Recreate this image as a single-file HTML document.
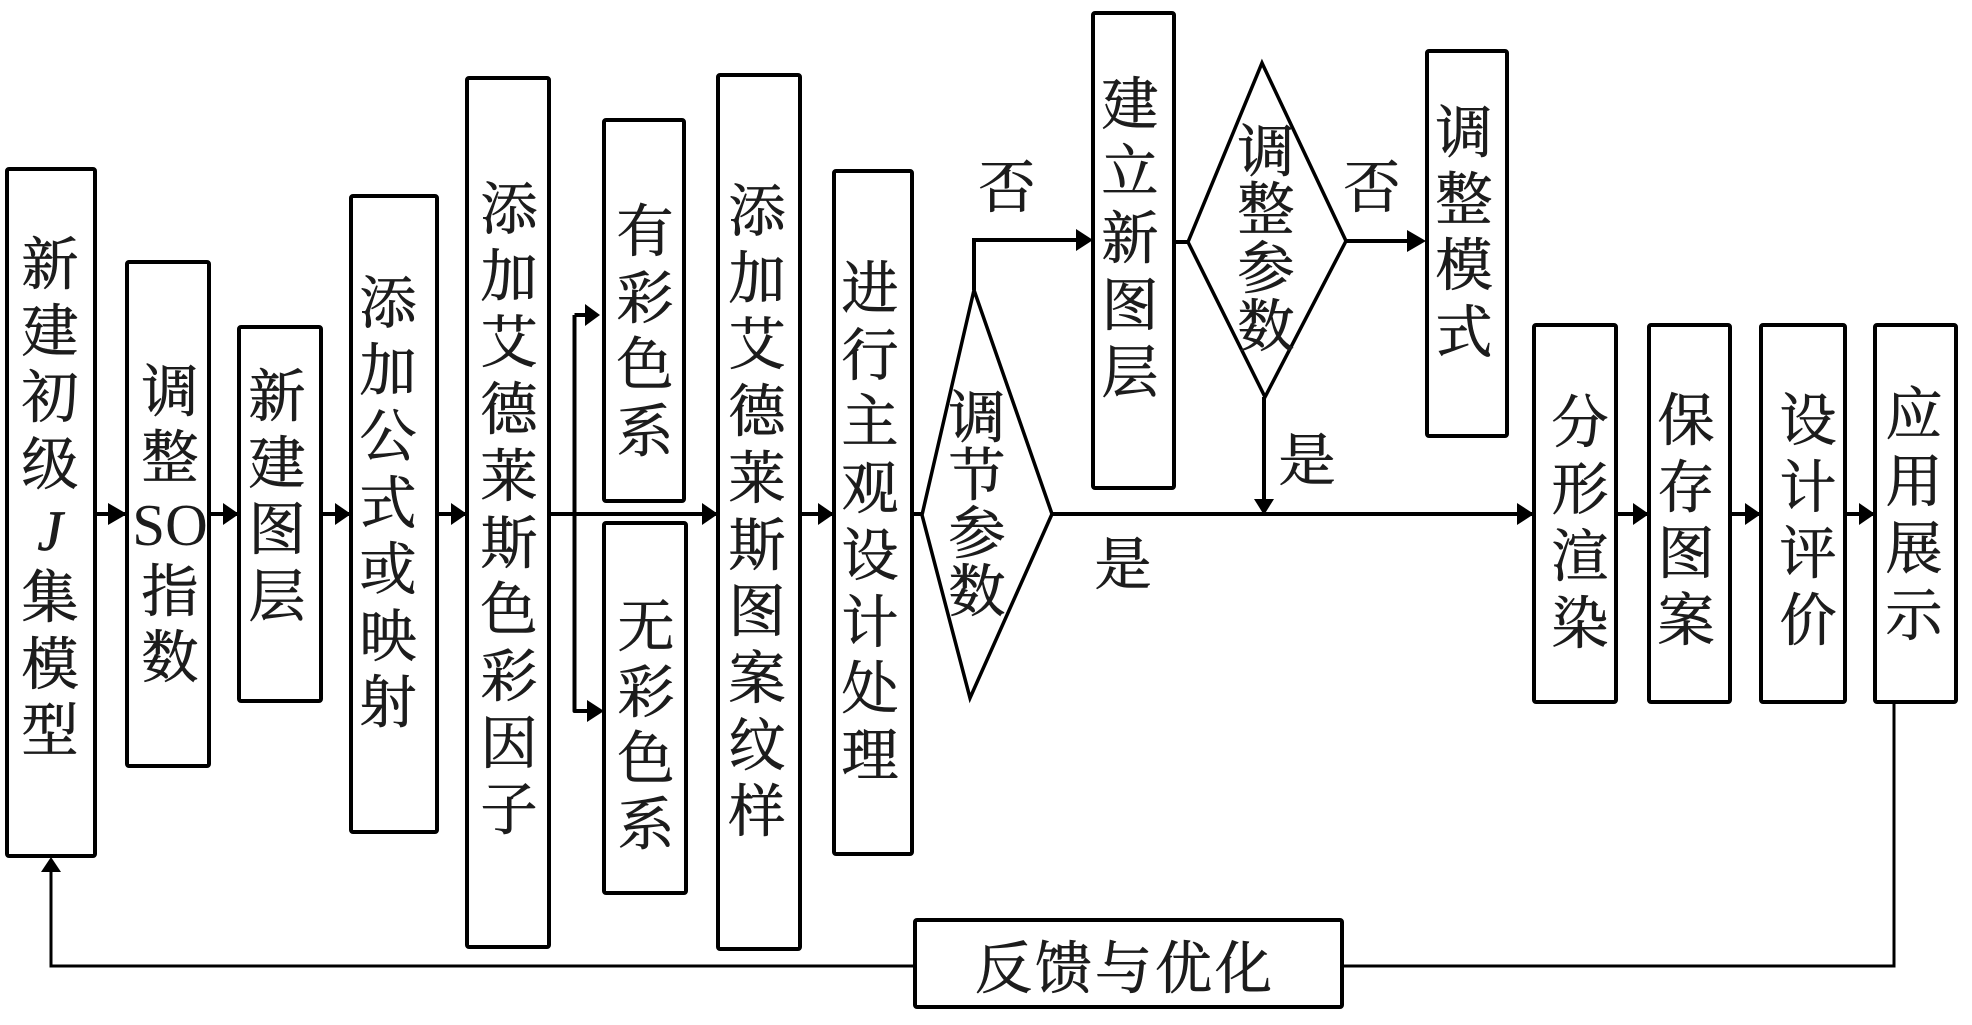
<!DOCTYPE html>
<html lang="zh">
<head>
<meta charset="utf-8">
<title>流程图</title>
<style>
html,body{margin:0;padding:0;background:#fff;}
#p{position:relative;width:1972px;height:1025px;overflow:hidden;background:#fff;}
svg{position:absolute;left:0;top:0;}
.c{position:absolute;width:140px;margin-left:-70px;text-align:center;color:#1c1c1c;white-space:nowrap;font-family:"Liberation Serif","Noto Serif CJK SC",serif;font-size:57px;transform:translateY(5px);-webkit-text-stroke:0.7px #1c1c1c;}
.c i{font-style:italic;}
.so{letter-spacing:0;-webkit-text-stroke:0;font-size:59px;}
</style>
</head>
<body>
<div id="p">
<svg width="1972" height="1025" viewBox="0 0 1972 1025">
<g fill="none" stroke="#000" stroke-width="4">
<path d="M95 514H1534"/>
<path d="M1616 514H1875"/>
<path d="M574.500 315H592M574.500 315V711H592" stroke-linejoin="round"/>
<path d="M974 290V240H1085"/>
<path d="M1174 242H1190"/>
<path d="M1346 241H1416"/>
<path d="M1264 397V505"/>
</g>
<g fill="none" stroke="#000" stroke-width="3">
<path d="M1894 702V966H51V865"/>
</g>
<g fill="#fff" stroke="#000" stroke-width="4" stroke-linejoin="round">
<rect x="7" y="169" width="88" height="687" rx="2"/>
<rect x="127" y="262" width="82" height="504" rx="2"/>
<rect x="239" y="327" width="82" height="374" rx="2"/>
<rect x="351" y="196" width="86" height="636" rx="2"/>
<rect x="467" y="78" width="82" height="869" rx="2"/>
<rect x="604" y="120" width="80" height="381" rx="2"/>
<rect x="604" y="523" width="82" height="370" rx="2"/>
<rect x="718" y="75" width="82" height="874" rx="2"/>
<rect x="834" y="171" width="78" height="683" rx="2"/>
<rect x="1093" y="13" width="81" height="475" rx="2"/>
<rect x="1427" y="51" width="80" height="385" rx="2"/>
<rect x="1534" y="325" width="82" height="377" rx="2"/>
<rect x="1649" y="325" width="81" height="377" rx="2"/>
<rect x="1761" y="325" width="84" height="377" rx="2"/>
<rect x="1875" y="325" width="81" height="377" rx="2"/>
<rect x="915" y="920" width="427" height="87" rx="2"/>
</g>
<g fill="#fff" stroke="#000" stroke-width="3.500" stroke-linejoin="miter">
<polygon points="922,515 974,290 1052,514 970,698"/>
<polygon points="1188,242 1262,63 1346,241 1265,397"/>
</g>
<g fill="#000">
<polygon points="108,503 127,514 108,525"/>
<polygon points="223,503 239,514 223,525"/>
<polygon points="335,503 351,514 335,525"/>
<polygon points="451,503 467,514 451,525"/>
<polygon points="702,503 718,514 702,525"/>
<polygon points="818,503 834,514 818,525"/>
<polygon points="1517,503 1534,514 1517,525"/>
<polygon points="1633,503 1649,514 1633,525"/>
<polygon points="1745,503 1761,514 1745,525"/>
<polygon points="1859,503 1875,514 1859,525"/>
<polygon points="585,304 600,315 585,326"/>
<polygon points="587,700 604,711 587,722"/>
<polygon points="1076,229 1093,240 1076,251"/>
<polygon points="1407,230 1426,241 1407,252"/>
<polygon points="1254,499 1274,499 1264,515"/>
<polygon points="41,872 61,872 51,857"/>
</g>
</svg>
<div class="c" style="left:50px;top:228px;line-height:66.600px">新<br>建<br>初<br>级<br><i>J</i><br>集<br>模<br>型</div>
<div class="c" style="left:170px;top:355px;line-height:66px">调<br>整<br><span class="so">SO</span><br>指<br>数</div>
<div class="c" style="left:277px;top:360px;line-height:66.600px">新<br>建<br>图<br>层</div>
<div class="c" style="left:388px;top:267px;line-height:66.500px">添<br>加<br>公<br>式<br>或<br>映<br>射</div>
<div class="c" style="left:509px;top:173px;line-height:66.700px">添<br>加<br>艾<br>德<br>莱<br>斯<br>色<br>彩<br>因<br>子</div>
<div class="c" style="left:645px;top:195px;line-height:66.700px">有<br>彩<br>色<br>系</div>
<div class="c" style="left:646px;top:590px;line-height:66px">无<br>彩<br>色<br>系</div>
<div class="c" style="left:757px;top:175px;line-height:66.700px">添<br>加<br>艾<br>德<br>莱<br>斯<br>图<br>案<br>纹<br>样</div>
<div class="c" style="left:870px;top:252px;line-height:66.700px">进<br>行<br>主<br>观<br>设<br>计<br>处<br>理</div>
<div class="c" style="left:977px;top:385px;line-height:58px">调<br>节<br>参<br>数</div>
<div class="c" style="left:1266px;top:119px;line-height:58.300px">调<br>整<br>参<br>数</div>
<div class="c" style="left:1130px;top:67px;line-height:67px">建<br>立<br>新<br>图<br>层</div>
<div class="c" style="left:1464px;top:96px;line-height:66.500px">调<br>整<br>模<br>式</div>
<div class="c" style="left:1580px;top:385px;line-height:67px">分<br>形<br>渲<br>染</div>
<div class="c" style="left:1686px;top:384px;line-height:66.700px">保<br>存<br>图<br>案</div>
<div class="c" style="left:1808px;top:384px;line-height:66.700px">设<br>计<br>评<br>价</div>
<div class="c" style="left:1914px;top:377px;line-height:67px">应<br>用<br>展<br>示</div>
<div class="c" style="left:1007px;top:151px;line-height:66px">否</div>
<div class="c" style="left:1372px;top:151px;line-height:66px">否</div>
<div class="c" style="left:1307px;top:424px;line-height:66px">是</div>
<div class="c" style="left:1123px;top:528px;line-height:66px">是</div>
<div class="c" style="left:1125px;top:932px;line-height:66px;width:400px;margin-left:-200px;letter-spacing:3px">反馈与优化</div>
</div>
</body>
</html>
